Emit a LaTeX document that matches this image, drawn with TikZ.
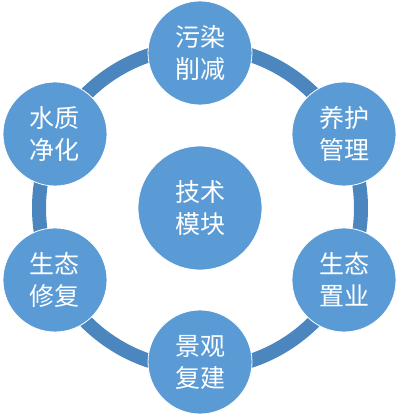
\documentclass[tikz,border=0pt]{standalone}
\usepackage{fontspec}
\newfontfamily\cjk{Noto Sans CJK SC}
\definecolor{ballblue}{HTML}{5B9BD5}
\definecolor{ringblue}{HTML}{4C86BE}
\tikzset{
	ball/.style={circle, fill=ballblue, draw=white, line width=0.8pt, text=white,
		inner sep=0pt, align=center, font=\cjk\fontsize{25}{32}\selectfont}
}
\begin{document}
\begin{tikzpicture}[x=1pt,y=1pt]
	\useasboundingbox (0,0) rectangle (400,418);
	\coordinate (O) at (200,210); % middle of the ring

	\draw[ringblue, line width=14pt] (O) circle (161);

	\node[ball, minimum size=124pt] (hub) at (O) {技术\\模块};

	\node[ball, minimum size=104pt] (top) at (200,365) {污染\\削减};
	\node[ball, minimum size=104pt] (ur) at (344,284) {养护\\管理};
	\node[ball, minimum size=104pt] (lr) at (344,138) {生态\\置业};
	\node[ball, minimum size=104pt] (bot) at (200,56) {景观\\复建};
	\node[ball, minimum size=104pt] (ll) at (55,138) {生态\\修复};
	\node[ball, minimum size=104pt] (ul) at (55,284) {水质\\净化};
\end{tikzpicture}
\end{document}
